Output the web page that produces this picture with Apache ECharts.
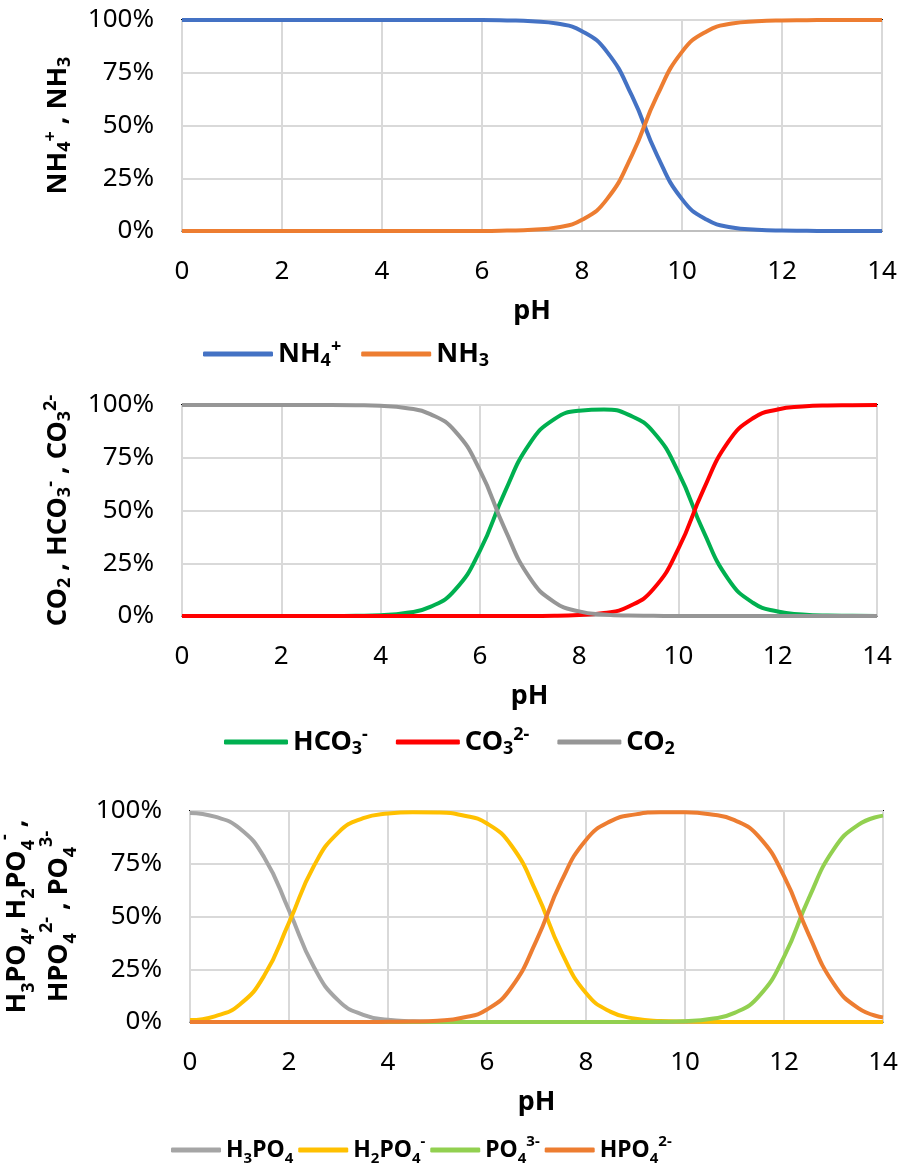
<!DOCTYPE html>
<html>
<head>
<meta charset="utf-8">
<script src="https://cdn.jsdelivr.net/npm/echarts@6/dist/echarts.min.js"></script>
<style>
html,body{margin:0;padding:0;background:#fff;}
#chart{width:906px;height:1164px;}
</style>
</head>
<body>
<div id="chart"></div>
<script>
// pH values (x axis)
const pH = [0,0.5,1,1.5,2,2.5,3,3.5,4,4.5,5,5.5,6,6.5,7,7.5,8,8.5,9,9.5,10,10.5,11,11.5,12,12.5,13,13.5,14];
const xTicks = [0,2,4,6,8,10,12,14];
const yTicks = [0,25,50,75,100];

// Chart 1 : ammonium / ammonia (%)
const nh4 = [100,100,100,100,100,100,100,100,100,100,100,100,100,99.8,99.4,98.3,94.7,84.9,64.0,36.0,15.1,5.3,1.7,0.6,0.2,0.1,0,0,0];
const nh3 = [0,0,0,0,0,0,0,0,0,0,0,0,0,0.2,0.6,1.7,5.3,15.1,36.0,64.0,84.9,94.7,98.3,99.4,99.8,99.9,100,100,100];

// Chart 2 : carbonate system (%)
const hco3 = [0,0,0,0,0,0,0,0.1,0.4,1.4,4.3,12.4,30.9,58.6,81.6,93.3,97.3,97.9,95.3,87.1,68.1,40.3,17.6,6.3,2.1,0.7,0.2,0.1,0];
const co3 = [0,0,0,0,0,0,0,0,0,0,0,0,0,0,0,0.1,0.5,1.4,4.5,12.9,31.9,59.7,82.4,93.7,97.9,99.3,99.8,99.9,100];
const co2 = [100,100,100,100,100,100,100,99.9,99.6,98.6,95.7,87.6,69.1,41.4,18.3,6.6,2.2,0.7,0.2,0.1,0,0,0,0,0,0,0,0,0];

// Chart 3 : phosphate system (%)
const h3po4 = [99.1,97.3,91.8,78.0,52.9,26.2,10.1,3.4,1.1,0.4,0.1,0,0,0,0,0,0,0,0,0,0,0,0,0,0,0,0,0,0];
const h2po4 = [0.9,2.7,8.2,22.0,47.1,73.8,89.9,96.6,98.8,99.4,99.3,98.0,94.1,83.4,61.3,33.4,13.7,4.8,1.6,0.5,0.2,0.1,0,0,0,0,0,0,0];
const po4 = [0,0,0,0,0,0,0,0,0,0,0,0,0,0,0,0,0,0,0,0.1,0.4,1.4,4.3,12.4,30.9,58.6,81.7,93.4,97.8];
const hpo4 = [0,0,0,0,0,0,0,0,0.1,0.2,0.6,2.0,5.9,16.6,38.7,66.6,86.3,95.2,98.4,99.4,99.4,98.5,95.7,87.6,69.1,41.4,18.3,6.6,2.2];

const FONT = '"Noto Sans", "DejaVu Sans", sans-serif';

function pairs(arr){ return pH.map((x,i)=>[x, arr[i]]); }

const richNames = {
  'NH4+': '{b|NH}{sub|4}{sup|+}',
  'NH3': '{b|NH}{sub|3}',
  'HCO3-': '{b|HCO}{sub|3}{sup|-}',
  'CO3 2-': '{b|CO}{sub|3}{sup|2-}',
  'CO2': '{b|CO}{sub|2}',
  'H3PO4': '{b|H}{sub|3}{b|PO}{sub|4}',
  'H2PO4-': '{b|H}{sub|2}{b|PO}{sub|4}{sup|-}',
  'PO4 3-': '{b|PO}{sub|4}{sup|3-}',
  'HPO4 2-': '{b|HPO}{sub|4}{sup|2-}'
};

function rich(size, lh){
  return {
    b: {fontSize: size, fontWeight: 'bold', fontFamily: FONT, color: '#000', lineHeight: lh},
    sub: {fontSize: Math.round(size*0.66), fontWeight: 'bold', fontFamily: FONT, color: '#000', lineHeight: Math.round(size*0.66), verticalAlign: 'bottom'},
    sup: {fontSize: Math.round(size*0.66), fontWeight: 'bold', fontFamily: FONT, color: '#000', lineHeight: Math.round(size*0.66), verticalAlign: 'top'}
  };
}

const grids = [
  {left: 182, right: 24, top: 20, height: 211},
  {left: 182, right: 29, top: 405, height: 211},
  {left: 190, right: 23, top: 811, height: 211}
].map(g => Object.assign(g, {show: true, borderColor: '#000', borderWidth: 2, backgroundColor: 'transparent', containLabel: false, outerBoundsMode: 'none'}));

const yNames = [
  '{b|NH}{sub|4}{sup|+}{b| , NH}{sub|3}',
  '{b|CO}{sub|2}{b| , HCO}{sub|3}{sup|-}{b| , CO}{sub|3}{sup|2-}',
  '{b|H}{sub|3}{b|PO}{sub|4}{b|, H}{sub|2}{b|PO}{sub|4}{sup|-}{b| ,}\n{b|HPO}{sub|4}{sup|2-}{b| , PO}{sub|4}{sup|3-}'
];

const xAxes = [0,1,2].map(i => ({
  type: 'value', gridIndex: i, min: xTicks[0], max: xTicks[xTicks.length-1], interval: 2,
  axisLine: {show: true, lineStyle: {color: '#bfbfbf', width: 2}},
  axisTick: {show: false},
  axisLabel: {fontSize: 26, color: '#000', fontFamily: FONT, margin: 28},
  splitLine: {show: true, lineStyle: {color: '#d9d9d9', width: 2}},
  name: 'pH', nameLocation: 'middle', nameGap: 67,
  nameTextStyle: {fontSize: 27, fontWeight: 'bold', color: '#000', fontFamily: FONT}
}));

const yAxes = [0,1,2].map(i => ({
  type: 'value', gridIndex: i, min: yTicks[0], max: yTicks[yTicks.length-1], interval: 25,
  axisLine: {show: false},
  axisTick: {show: false},
  axisLabel: {fontSize: 26, color: '#000', fontFamily: FONT, margin: 28, formatter: '{value}%'},
  splitLine: {show: true, lineStyle: {color: '#d9d9d9', width: 2}},
  name: yNames[i], nameLocation: 'middle', nameRotate: 90, nameGap: i === 2 ? 110 : 108,
  nameTextStyle: {rich: rich(27, i === 2 ? 42 : 32)}
}));

function line(name, data, color, idx){
  return {
    type: 'line', name: name, data: pairs(data), xAxisIndex: idx, yAxisIndex: idx,
    symbol: 'none', smooth: 0.5, clip: false,
    lineStyle: {color: color, width: 4},
    itemStyle: {color: color}
  };
}

const series = [
  line('NH4+', nh4, '#4472C4', 0),
  line('NH3', nh3, '#ED7D31', 0),
  line('HCO3-', hco3, '#00B050', 1),
  line('CO3 2-', co3, '#FF0000', 1),
  line('CO2', co2, '#969696', 1),
  line('H3PO4', h3po4, '#A5A5A5', 2),
  line('H2PO4-', h2po4, '#FFC000', 2),
  line('PO4 3-', po4, '#92D050', 2),
  line('HPO4 2-', hpo4, '#ED7D31', 2)
];

function legend(names, left, top, w, gap, size){
  return {
    data: names, left: left, top: top, orient: 'horizontal',
    icon: 'roundRect', itemWidth: w, itemHeight: 5, itemGap: gap,
    formatter: n => richNames[n],
    textStyle: {rich: rich(size, 32)}
  };
}

const chart = echarts.init(document.getElementById('chart'), null, {renderer: 'canvas'});
chart.setOption({
  animation: false,
  backgroundColor: '#fff',
  grid: grids,
  xAxis: xAxes,
  yAxis: yAxes,
  legend: [
    legend(['NH4+','NH3'], 198, 333, 70, 20, 27),
    legend(['HCO3-','CO3 2-','CO2'], 219, 721, 64, 28, 27),
    legend(['H3PO4','H2PO4-','PO4 3-','HPO4 2-'], 166, 1129, 50, 5, 23)
  ],
  series: series
});
</script>
</body>
</html>
